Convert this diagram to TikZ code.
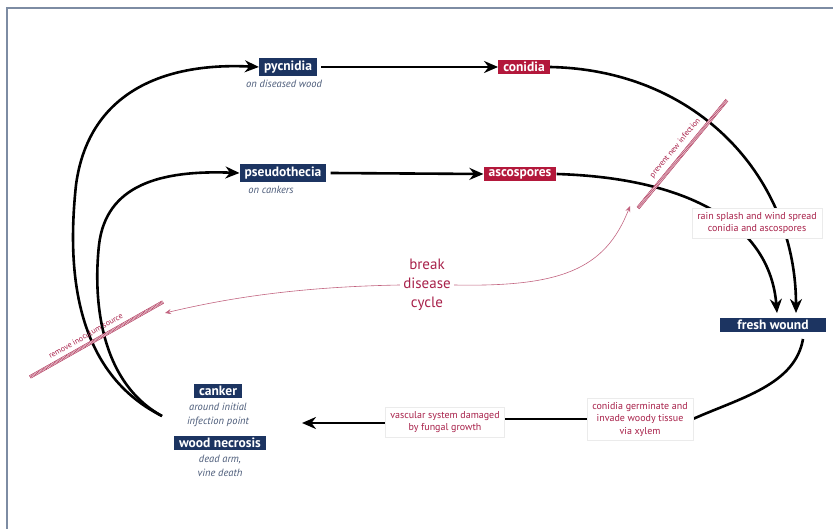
\documentclass[tikz,border=0pt]{standalone}
\usepackage{fontspec}
\setmainfont{PT Sans}
\usetikzlibrary{arrows.meta}
\pgfdeclarelayer{bg}
\pgfsetlayers{bg,main}
\definecolor{navy}{HTML}{1C3461}
\definecolor{crim}{HTML}{B3183B}
\definecolor{rtext}{HTML}{A8214A}
\definecolor{subgrey}{HTML}{4A5A78}
\definecolor{framec}{HTML}{7D8CA3}
\tikzset{
  navybox/.style={fill=navy, text=white, font=\fontsize{13.5}{15}\selectfont\bfseries, inner xsep=5pt, inner ysep=2.5pt},
  redbox/.style={fill=crim, text=white, font=\fontsize{13.5}{15}\selectfont\bfseries, inner xsep=5pt, inner ysep=2.5pt},
  sub/.style={text=subgrey, font=\fontsize{10.5}{13.5}\selectfont\itshape, align=center, inner sep=0pt},
  note/.style={fill=white, draw=black!8, text=rtext, font=\fontsize{10}{12.5}\selectfont, align=center, inner xsep=5pt, inner ysep=4pt},
  bigarrow/.style={line width=2.6pt, -{Stealth[length=14pt,width=12pt]}},
  bigline/.style={line width=2.6pt},
  redarrow/.style={rtext!70, line width=0.6pt, -{Stealth[length=6pt,width=5pt]}},
  barline/.style={rtext, line width=0.5pt, double=white, double distance=2.4pt},
  barfill/.style={rtext!80, line width=2.4pt, dash pattern=on 0.7pt off 0.7pt},
  bartext/.style={text=rtext, font=\fontsize{8}{9}\selectfont, inner sep=1pt},
}
\begin{document}
\begin{tikzpicture}[x=1pt,y=-1pt]
\useasboundingbox (0,0) rectangle (833,529);
% frame
\draw[framec, line width=1.8pt] (7,529) -- (7,8) -- (833,8);

% nodes
\node[navybox] (pyc) at (288,67) {pycnidia};
\node[sub, anchor=north] (pycs) at (284,80) {on diseased wood};
\node[redbox] (con) at (524,67) {conidia};
\node[navybox] (pse) at (283,173) {pseudothecia};
\node[sub, anchor=north] (pses) at (271,186) {on cankers};
\node[redbox] (asc) at (520,174) {ascospores};
\node[navybox, minimum width=106pt] (fw) at (773,325) {fresh wound};

\node[navybox] (cank) at (218,391) {canker};
\node[sub, anchor=north] (canks) at (218,403) {around initial\\infection point};
\node[navybox] (wn) at (220,443) {wood necrosis};
\node[sub, anchor=north] (wns) at (220,455) {dead arm,\\vine death};

\node[note] (rain) at (757,223) {rain splash and wind spread\\conidia and ascospores};
\node[note] (germ) at (640,419) {conidia germinate and\\invade woody tissue\\via xylem};
\node[note] (vasc) at (445,422) {vascular system damaged\\by fungal growth};

\node[text=rtext, font=\fontsize{15}{19}\selectfont, align=center] (brk) at (427,285) {break\\disease\\cycle};

\begin{pgfonlayer}{bg}
% main arrows
\draw[bigarrow] (pyc.east) ++(4,0) -- (con.west);
\draw[bigarrow] (pse.east) ++(4,0) -- (asc.west);
\draw[bigarrow] (con.east) .. controls (700,70) and (796,180) .. (796,313);
\draw[bigarrow] (asc.east) .. controls (690,178) and (770,225) .. (777,313);
\coordinate (fwB) at (803,339);
\draw[bigline] (fwB) .. controls (795,385) and (740,398) .. (germ.east);
\draw[bigline] (germ.west) -- (vasc.east |- germ.west);
\coordinate (vtip) at (302,423);
\draw[bigarrow] (vasc.west |- vtip) -- (vtip);
\coordinate (cankL) at (162,416);
\draw[bigarrow] (cankL) .. controls (70,370) and (68,260) .. (76,185) .. controls (88,95) and (160,62) .. (pyc.west);
\draw[bigarrow] (cankL) .. controls (100,382) and (93,300) .. (99,245) .. controls (106,185) and (160,170) .. (pse.west);
\end{pgfonlayer}

% break disease cycle arrows
\coordinate (pnTip) at (630,206);
\coordinate (riTip) at (165,313);
\draw[redarrow] (brk.east) .. controls (560,287) and (605,270) .. (pnTip);
\draw[redarrow] (brk.west) .. controls (290,287) and (220,300) .. (riTip);

% barriers
\coordinate (pnA) at (638,208);
\coordinate (pnB) at (727,100);
\draw[barline] (pnA) -- (pnB);
\draw[barfill] (pnA) -- (pnB) node[midway, sloped, above=3.5pt, bartext] (pnt) {prevent new infection};
\coordinate (riA) at (30,377);
\coordinate (riB) at (163,302);
\draw[barline] (riA) -- (riB);
\draw[barfill] (riA) -- (riB) node[pos=0.45, sloped, above=3.5pt, bartext] (rit) {remove inoculum source};
\end{tikzpicture}
\end{document}
